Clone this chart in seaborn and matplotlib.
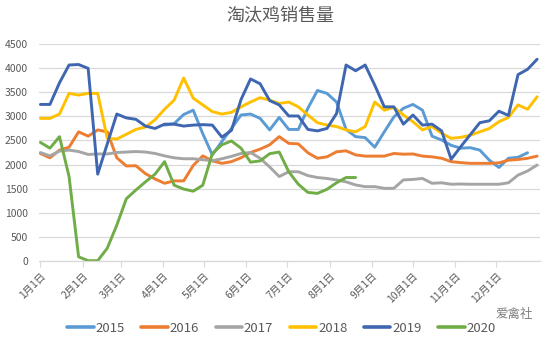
import numpy as np
import pandas as pd
import matplotlib
matplotlib.use("Agg")
import matplotlib.pyplot as plt
import seaborn as sns

nan = np.nan

# ---- data (weekly, week 0 = 1月1日) ----
week = list(range(53))
month_start_day = [0, 31, 59, 90, 120, 151, 181, 212, 243, 273, 304, 334]
month_labels = ["1月1日", "2月1日", "3月1日", "4月1日", "5月1日", "6月1日",
                "7月1日", "8月1日", "9月1日", "10月1日", "11月1日", "12月1日"]
years = ["2015", "2016", "2017", "2018", "2019", "2020"]

s2015 = [nan] * 13 + [2820, 2850, 3040, 3130, 2640, 2200, 2480, 2750, 3030, 3050,
                      2960, 2720, 2980, 2730, 2730, 3170, 3540, 3480, 3300, 2730,
                      2580, 2560, 2360, 2680, 2990, 3170, 3250, 3130, 2590, 2510,
                      2400, 2340, 2350, 2300, 2090, 1940, 2130, 2150, 2245, nan]
s2016 = [2230, 2140, 2300, 2360, 2680, 2590, 2720, 2680, 2140, 1970,
         1975, 1810, 1700, 1610, 1660, 1660, 1980, 2180, 2075, 2025,
         2060, 2140, 2250, 2320, 2410, 2580, 2440, 2430, 2245, 2130,
         2160, 2265, 2285, 2200, 2175, 2175, 2175, 2230, 2215, 2220,
         2175, 2160, 2130, 2060, 2040, 2025, 2025, 2025, 2035, 2090,
         2105, 2130, 2175]
s2017 = [2250, 2180, 2280, 2300, 2270, 2210, 2220, 2220, 2250, 2260,
         2270, 2260, 2230, 2180, 2140, 2120, 2120, 2100, 2080, 2120,
         2170, 2230, 2250, 2130, 1950, 1750, 1850, 1850, 1770, 1730,
         1710, 1680, 1640, 1575, 1540, 1540, 1505, 1505, 1680, 1690,
         1710, 1610, 1620, 1590, 1595, 1590, 1590, 1590, 1590, 1620,
         1780, 1865, 1990]
s2018 = [2960, 2960, 3050, 3480, 3445, 3480, 3480, 2545, 2530, 2630,
         2730, 2780, 2930, 3150, 3340, 3800, 3380, 3240, 3100, 3050,
         3085, 3200, 3300, 3390, 3340, 3270, 3300, 3200, 3030, 2870,
         2820, 2790, 2720, 2680, 2790, 3300, 3130, 3190, 3030, 2890,
         2720, 2790, 2650, 2545, 2565, 2610, 2680, 2750, 2890, 2980,
         3240, 3150, 3410]
s2019 = [3250, 3250, 3700, 4070, 4080, 4000, 1800, 2430, 3050, 2970,
         2940, 2800, 2750, 2840, 2840, 2800, 2820, 2830, 2820, 2570,
         2710, 3350, 3780, 3680, 3330, 3240, 3010, 3010, 2730, 2700,
         2750, 3060, 4070, 3950, 4070, 3650, 3200, 3200, 2840, 3030,
         2820, 2840, 2700, 2110, 2370, 2620, 2870, 2910, 3110, 3020,
         3870, 3980, 4190]
s2020 = [2460, 2340, 2580, 1750, 80, 0, 0, 260, 740, 1290,
         1470, 1640, 1800, 2060, 1570, 1490, 1445, 1570, 2230, 2410,
         2490, 2340, 2050, 2075, 2225, 2260, 1850, 1590, 1420, 1400,
         1485, 1620, 1730, 1730] + [nan] * 19

colors = ["#5B9BD5", "#ED7D31", "#A5A5A5", "#FFC000", "#3F66B0", "#70AD47"]

series = [s2015, s2016, s2017, s2018, s2019, s2020]
frames = []
for y, vals in zip(years, series):
    frames.append(pd.DataFrame({"day": [w * 7 for w in week], "value": vals, "year": y}))
df = pd.concat(frames, ignore_index=True).dropna()

sns.set_theme(style="white")
plt.rcParams["font.family"] = ["Noto Sans CJK SC", "DejaVu Sans"]

fig = plt.figure(figsize=(5.52, 3.41), dpi=100)
ax = fig.add_axes([0.0707, 0.2355, 0.9073, 0.6345])

sns.lineplot(data=df, x="day", y="value", hue="year", hue_order=years,
             palette=colors, linewidth=2.1, sort=False, ax=ax, legend=False)

ax.set_xlim(-1, 366)
ax.set_ylim(0, 4500)
ax.set_yticks(range(0, 4501, 500))
ax.set_xticks(month_start_day)
ax.set_xticklabels(month_labels, rotation=45, ha="right", va="top",
                   rotation_mode="anchor")
ax.tick_params(axis="x", length=4, width=0.8, color="#D9D9D9", pad=3,
               labelsize=7.5, labelcolor="#595959", bottom=True)
ax.tick_params(axis="y", length=0, pad=8, labelsize=7.5, labelcolor="#595959")
ax.yaxis.grid(True, color="#D9D9D9", linewidth=0.9)
ax.set_axisbelow(True)
for side in ["left", "right", "top"]:
    ax.spines[side].set_visible(False)
ax.spines["bottom"].set_color("#D9D9D9")
ax.spines["bottom"].set_linewidth(0.9)
ax.set_xlabel("")
ax.set_ylabel("")

fig.text(0.507, 0.955, "淘汰鸡销售量", ha="center", va="center",
         fontsize=13, color="#595959")

handles = [plt.Line2D([], [], color=c, linewidth=2.6) for c in colors]
fig.legend(handles, years, loc="center", bbox_to_anchor=(0.51, 0.038),
           ncol=6, frameon=False, handlelength=2.0, handletextpad=0.15,
           columnspacing=1.25, fontsize=9.5, labelcolor="#595959")

fig.text(0.965, 0.078, "爱禽社", ha="right", va="center",
         fontsize=9, color="#7F7F7F")

fig.savefig("out.png", dpi=100)
